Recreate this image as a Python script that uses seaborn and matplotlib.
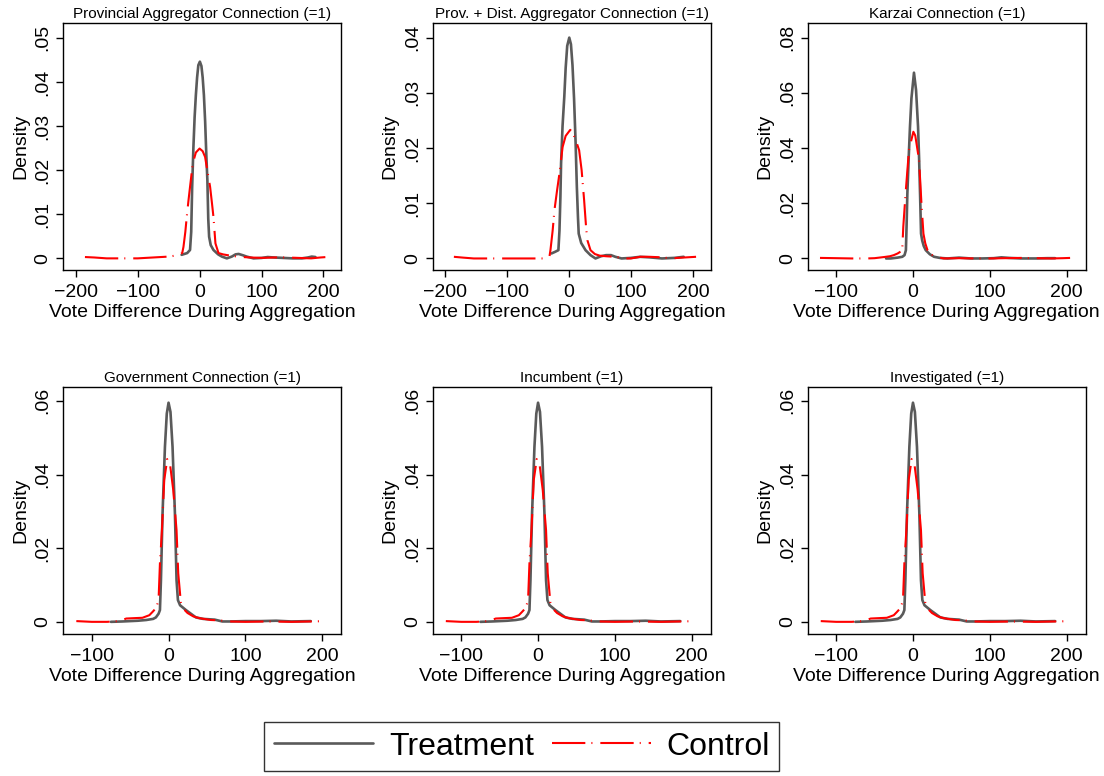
import numpy as np
import pandas as pd
import seaborn as sns
import matplotlib
matplotlib.use("Agg")
import matplotlib.pyplot as plt
from matplotlib.ticker import FuncFormatter
from matplotlib.lines import Line2D

# --- data (kernel density curves) ---
titles = ["Provincial Aggregator Connection (=1)",
          "Prov. + Dist. Aggregator Connection (=1)",
          "Karzai Connection (=1)",
          "Government Connection (=1)",
          "Incumbent (=1)",
          "Investigated (=1)"]

prov_treat_x = [-29, -20, -15.4, -13.5, -12, -10, -8, -6, -4, -2, 0.5, 3, 5, 7, 9, 11, 12.6,
                14, 15.4, 18, 22.4, 30, 36, 44, 52, 58, 63, 70, 76, 87, 100, 110, 120, 135,
                150, 165, 175, 181, 187]
prov_treat_y = [0.0008, 0.0012, 0.0019, 0.006, 0.016, 0.025, 0.032, 0.037, 0.041, 0.0438,
                0.0446, 0.0436, 0.041, 0.037, 0.031, 0.023, 0.0177, 0.009, 0.0049, 0.003,
                0.0019, 0.0009, 0.0004, 0.0, 0.0004, 0.0009, 0.001, 0.0007, 0.0004, 0.0,
                0.0001, 0.0003, 0.0002, 0.0001, 0.0, 0.0, 0.0002, 0.0004, 0.0003]
prov_ctrl_x = [-185, -170, -150, -130, -100, -75, -50, -35, -28, -26, -23, -20.7, -18, -15.4,
               -11, -6, 0, 5, 8.9, 13, 17, 20, 22.4, 25.6, 30.5, 38, 44, 55, 70, 82, 100,
               120, 140, 160, 180, 195, 205]
prov_ctrl_y = [0.0003, 0.0002, 0.0, 0.0, 0.0, 0.0002, 0.0004, 0.0007, 0.0012, 0.0026, 0.006,
               0.0094, 0.013, 0.0162, 0.0215, 0.024, 0.0249, 0.0243, 0.023, 0.0195, 0.0162,
               0.0125, 0.0094, 0.0034, 0.0012, 0.0009, 0.00075, 0.0005, 0.0003, 0.0002,
               0.0001, 0.0002, 0.0002, 0.0001, 0.0, 0.0002, 0.0003]

dist_treat_x = [-28, -22, -16.7, -15, -13.5, -12.4, -10, -7.2, -5, -2.5, 0.8, 3.5, 6, 8.5,
                11, 13, 14.8, 16, 20, 27, 35, 43, 52, 60, 68, 75, 85, 100, 115, 130, 150,
                170, 185]
dist_treat_y = [0.0009, 0.0012, 0.0015, 0.005, 0.011, 0.0172, 0.024, 0.0293, 0.0345, 0.0385,
                0.040, 0.0388, 0.035, 0.029, 0.021, 0.013, 0.0075, 0.0045, 0.0028, 0.0015,
                0.0006, 0.0, 0.0004, 0.0006, 0.0006, 0.0003, 0.0, 0.0001, 0.0003, 0.0002,
                0.0, 0.0001, 0.0003]
dist_ctrl_x = [-185, -170, -153, -120, -90, -60, -36, -31, -29.5, -26, -23, -19, -15, -9.9,
               -5, 2.4, 7, 12, 16.7, 20.7, 24.7, 28, 30, 35, 42, 50, 60, 75, 90, 100, 115,
               130, 150, 165, 175, 190, 205]
dist_ctrl_y = [0.0003, 0.00015, 0.0, 0.0, 0.0, 0.0, 0.0, 0.0004, 0.0015, 0.005, 0.0088,
               0.0122, 0.0154, 0.0202, 0.0222, 0.0233, 0.0226, 0.0212, 0.0196, 0.016,
               0.0106, 0.0055, 0.0033, 0.0015, 0.0008, 0.0005, 0.0004, 0.0003, 0.0, 0.0,
               0.0003, 0.0003, 0.0002, 0.0, 0.0001, 0.0002, 0.0003]

karzai_treat_x = [-35, -29, -20, -13.9, -11, -9.2, -8.3, -7.3, -5.5, -3.9, -2, 1.3, 4, 6.6,
                  8, 9.2, 10.5, 12, 14, 16.6, 22, 27.5, 35, 45, 60, 75, 90, 105, 115, 125,
                  140, 160, 175, 185]
karzai_treat_y = [0.0, 0.0, 0.0003, 0.0006, 0.0012, 0.003, 0.012, 0.0236, 0.037, 0.0477,
                  0.058, 0.0673, 0.061, 0.0477, 0.036, 0.0236, 0.009, 0.0065, 0.0045, 0.003,
                  0.0015, 0.0006, 0.0002, 0.0, 0.0003, 0.0, 0.0, 0.0001, 0.0004, 0.0002,
                  0.0, 0.0, 0.0001, 0.0001]
karzai_ctrl_x = [-121, -100, -80, -60, -50, -38, -30, -25, -20, -16, -14, -12.6, -9.6, -5.2,
                 0.5, 3, 7.9, 11, 13.6, 16, 18.9, 23, 29.7, 40, 60, 80, 100, 120, 140, 160,
                 180, 195, 205]
karzai_ctrl_y = [0.0002, 0.0001, 0.0, 0.0, 0.0001, 0.0005, 0.0008, 0.0012, 0.0018, 0.0025,
                 0.003, 0.0115, 0.0236, 0.0393, 0.0459, 0.0445, 0.0357, 0.02, 0.009, 0.0055,
                 0.003, 0.0015, 0.0006, 0.0, 0.0001, 0.0, 0.0, 0.0001, 0.0002, 0.0001, 0.0,
                 0.0001, 0.0002]

# the bottom three panels show the same curves
gov_treat_x = [-75, -60, -40, -29, -20, -16.5, -13, -11.2, -9.9, -7.8, -4.7, -2.3, 0, 2.5,
               5.2, 8.3, 10.4, 12.2, 15, 22.6, 35.6, 45, 60, 70, 80, 100, 120, 140, 160, 185]
gov_treat_y = [0.0, 0.0001, 0.0003, 0.0005, 0.0008, 0.0012, 0.0022, 0.0032, 0.0113, 0.0294,
               0.0475, 0.0565, 0.0595, 0.057, 0.0475, 0.0294, 0.0113, 0.0059, 0.0045, 0.0032,
               0.0012, 0.0008, 0.0006, 0.0001, 0.0001, 0.0002, 0.0002, 0.0003, 0.0001, 0.0002]
gov_ctrl_x = [-120, -100, -80, -64, -55, -45, -34, -25, -20.8, -16, -13, -11.2, -8.6, -5.6,
              -1.7, 1.8, 6.1, 10.4, 12.6, 16.1, 20, 24.7, 32, 40, 55, 66, 80, 100, 130, 160,
              185, 205]
gov_ctrl_y = [0.0002, 0.0, 0.0, 0.0002, 0.0009, 0.001, 0.0011, 0.0018, 0.0027, 0.0038, 0.0059,
              0.0159, 0.0249, 0.0385, 0.0442, 0.043, 0.0358, 0.0249, 0.0132, 0.005, 0.0034,
              0.0024, 0.0015, 0.001, 0.0005, 0.0004, 0.0001, 0.0, 0.0001, 0.0, 0.0001, 0.0002]

curves = [(prov_treat_x, prov_treat_y, prov_ctrl_x, prov_ctrl_y),
          (dist_treat_x, dist_treat_y, dist_ctrl_x, dist_ctrl_y),
          (karzai_treat_x, karzai_treat_y, karzai_ctrl_x, karzai_ctrl_y),
          (gov_treat_x, gov_treat_y, gov_ctrl_x, gov_ctrl_y),
          (gov_treat_x, gov_treat_y, gov_ctrl_x, gov_ctrl_y),
          (gov_treat_x, gov_treat_y, gov_ctrl_x, gov_ctrl_y)]

x_ticks = [[-200, -100, 0, 100, 200]] * 2 + [[-100, 0, 100, 200]] * 4
y_ticks = [[0, .01, .02, .03, .04, .05], [0, .01, .02, .03, .04], [0, .02, .04, .06, .08],
           [0, .02, .04, .06], [0, .02, .04, .06], [0, .02, .04, .06]]
x_lims = [(-220, 229), (-219, 229)] + [(-137, 225)] * 4
y_lims = [(-0.00265, 0.0533), (-0.0021, 0.0426), (-0.0042, 0.0852),
          (-0.0033, 0.0637), (-0.0033, 0.0637), (-0.0033, 0.0637)]

TREAT_COLOR = "#5a5a5a"
CTRL_COLOR = "#ff0000"
CTRL_DASH = (16, 2.9, 0.5, 3.8)

sns.set_theme(style="ticks", rc={"text.color": "black", "axes.labelcolor": "black",
                                 "xtick.color": "black", "ytick.color": "black"})
plt.rcParams["font.family"] = ["Liberation Sans", "DejaVu Sans"]

fig = plt.figure(figsize=(11.04, 7.76), dpi=100)

lefts = [0.0573, 0.392, 0.7316]
bottoms = [0.652, 0.183]
for i, (tx, ty, cx, cy) in enumerate(curves):
    ax = fig.add_axes([lefts[i % 3], bottoms[i // 3], 0.252, 0.318])
    df = pd.concat([
        pd.DataFrame({"x": tx, "y": ty, "group": "Treatment"}),
        pd.DataFrame({"x": cx, "y": cy, "group": "Control"}),
    ], ignore_index=True)
    sns.lineplot(data=df, x="x", y="y", hue="group", style="group",
                 palette={"Treatment": TREAT_COLOR, "Control": CTRL_COLOR},
                 dashes={"Treatment": "", "Control": CTRL_DASH},
                 size="group", sizes={"Treatment": 1.9, "Control": 1.5},
                 estimator=None, sort=False, legend=False, ax=ax)
    ax.set_xlim(*x_lims[i])
    ax.set_ylim(*y_lims[i])
    ax.set_xticks(x_ticks[i])
    ax.set_yticks(y_ticks[i])
    ax.xaxis.set_major_formatter(FuncFormatter(lambda v, p: "\u2212" + str(int(-v)) if v < 0 else str(int(v))))
    ax.yaxis.set_major_formatter(FuncFormatter(lambda v, p: "0" if v == 0 else f"{v:.2f}".lstrip("0")))
    for lab in ax.get_yticklabels():
        lab.set_rotation(90)
        lab.set_va("center")
    ax.tick_params(axis="x", labelsize=14, length=5, width=1, color="black", pad=5)
    ax.tick_params(axis="y", labelsize=14, length=5, width=1, color="black", pad=3.5)
    for s in ax.spines.values():
        s.set_color("black")
        s.set_linewidth(1)
    ax.set_xlabel("Vote Difference During Aggregation", fontsize=14, labelpad=2)
    ax.set_ylabel("Density", fontsize=14, labelpad=4)
    ax.set_title(titles[i], fontsize=11, pad=4)

handles = [Line2D([], [], color=TREAT_COLOR, lw=1.9),
           Line2D([], [], color=CTRL_COLOR, lw=1.5, dashes=CTRL_DASH)]
leg = fig.legend(handles, ["Treatment", "Control"], loc="center",
                 bbox_to_anchor=(0.4728, 0.038), ncol=2, fontsize=23,
                 frameon=True, fancybox=False, edgecolor="black",
                 handlelength=3.1, handletextpad=0.5, columnspacing=0.55,
                 borderpad=0.3, borderaxespad=0)
leg.get_frame().set_linewidth(1)

fig.savefig("out.png", dpi=100)
